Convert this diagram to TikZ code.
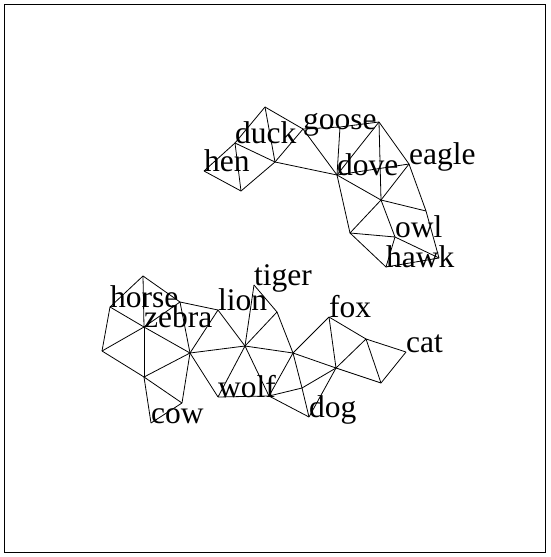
\documentclass[tikz,border=0pt]{standalone}
\usepackage{fontspec}
\setmainfont{Liberation Serif}
\begin{document}
\begin{tikzpicture}[x=1pt,y=-1pt,
  edge/.style={line width=0.8pt,black},
  lab/.style={anchor=base west,inner sep=0pt,font=\fontsize{31.5}{36}\selectfont}]
\useasboundingbox (0,0) rectangle (550,557);
\draw[line width=0.6pt] (4.5,4.5) rectangle (545,552);
% upper cluster
\coordinate (a) at (265,107);
\coordinate (b) at (235,143);
\coordinate (c) at (204,171);
\coordinate (d) at (241,191);
\coordinate (e) at (275,162);
\coordinate (f) at (303,129);
\coordinate (i) at (340,127);
\coordinate (h) at (379,122);
\coordinate (g) at (337,175);
\coordinate (j) at (409,164);
\coordinate (k) at (381,200);
\coordinate (l) at (426,211);
\coordinate (m) at (350,233);
\coordinate (n) at (395,237);
\coordinate (o) at (439,258);
\coordinate (p) at (386,267);
% lower cluster
\coordinate (q) at (143,276);
\coordinate (r) at (110,307);
\coordinate (s) at (180,302);
\coordinate (t) at (144,327);
\coordinate (u) at (218,310);
\coordinate (v) at (102,351);
\coordinate (w) at (190,353);
\coordinate (x) at (144,377);
\coordinate (y) at (182,403);
\coordinate (z) at (151,423);
\coordinate (aa) at (245,346);
\coordinate (bb) at (218,397);
\coordinate (cc) at (254,285);
\coordinate (dd) at (277,312);
\coordinate (ee) at (293,353);
\coordinate (mm) at (269,396);
\coordinate (kk) at (302,388);
\coordinate (ll) at (309,417);
\coordinate (ff) at (329,317);
\coordinate (gg) at (366,339);
\coordinate (hh) at (406,352);
\coordinate (ii) at (381,383);
\coordinate (jj) at (336,368);
% edges
\foreach \p/\q in {a/b,b/c,c/d,d/e,e/a,a/f,f/e,b/e,b/d,e/g,
  f/i,i/h,f/g,i/g,h/g,h/k,h/j,g/j,g/k,k/j,g/m,k/m,k/n,k/l,j/l,m/n,n/o,l/o,m/p,n/p,p/o,
  q/r,q/s,q/t,r/t,r/v,v/t,t/s,t/w,t/x,s/u,s/w,u/w,v/x,x/w,x/y,x/z,z/y,y/w,
  w/aa,w/bb,u/aa,aa/bb,aa/cc,cc/dd,aa/dd,dd/ee,aa/ee,aa/mm,bb/mm,ee/mm,mm/kk,mm/ll,ee/kk,kk/ll,
  ee/ff,ff/gg,gg/hh,hh/ii,ii/gg,ii/jj,ff/jj,gg/jj,ee/jj,jj/kk,jj/ll}
  \draw[edge] (\p) -- (\q);
% labels
\node[lab] (lhen) at (c) {hen};
\node[lab] (lduck) at (b) {duck};
\node[lab] (lgoose) at (f) {goose};
\node[lab] (ldove) at (g) {dove};
\node[lab] (leagle) at (j) {eagle};
\node[lab] (lowl) at (n) {owl};
\node[lab] (lhawk) at (p) {hawk};
\node[lab] (lhorse) at (r) {horse};
\node[lab] (lzebra) at (t) {zebra};
\node[lab] (llion) at (u) {lion};
\node[lab] (ltiger) at (cc) {tiger};
\node[lab] (lfox) at (ff) {fox};
\node[lab] (lcat) at (hh) {cat};
\node[lab] (lwolf) at (bb) {wolf};
\node[lab] (ldog) at (ll) {dog};
\node[lab] (lcow) at (z) {cow};
\end{tikzpicture}
\end{document}
